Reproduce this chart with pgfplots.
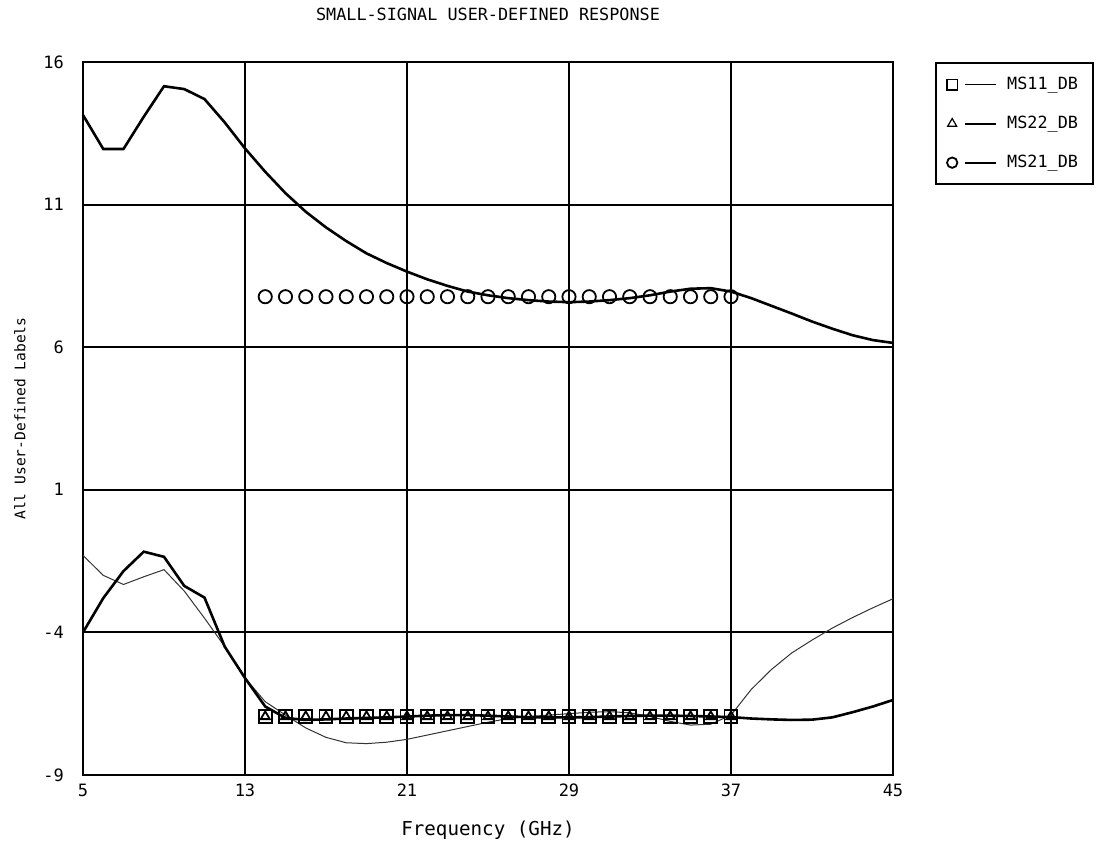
\documentclass[border=0pt]{standalone}
\usepackage{fontspec}
\setmainfont{DejaVu Sans Mono}
\usepackage{pgfplots}
\usepackage{pgfplotstable}
\pgfplotsset{compat=1.18}

% traces, 1 GHz steps
\pgfplotstableread{
x ms11 ms22 ms21
5 -1.30 -4.00 14.14
6 -2.00 -2.80 12.95
7 -2.32 -1.85 12.95
8 -2.05 -1.17 14.08
9 -1.80 -1.35 15.15
10 -2.55 -2.37 15.05
11 -3.50 -2.78 14.70
12 -4.50 -4.50 13.88
13 -5.60 -5.60 12.97
14 -6.43 -6.60 12.15
15 -6.90 -7.00 11.40
16 -7.35 -7.07 10.75
17 -7.68 -7.05 10.20
18 -7.87 -7.02 9.72
19 -7.90 -7.00 9.29
20 -7.85 -6.98 8.95
21 -7.75 -6.95 8.65
22 -7.60 -6.92 8.38
23 -7.45 -6.90 8.15
24 -7.30 -6.90 7.95
25 -7.15 -6.92 7.82
26 -7.02 -6.95 7.72
27 -6.95 -6.97 7.65
28 -6.90 -6.98 7.60
29 -6.85 -6.98 7.58
30 -6.80 -6.97 7.60
31 -6.78 -6.95 7.65
32 -6.82 -6.93 7.72
33 -6.95 -6.92 7.82
34 -7.12 -6.92 7.95
35 -7.25 -6.93 8.05
36 -7.22 -6.95 8.07
37 -6.90 -6.97 7.95
38 -6.00 -7.02 7.72
39 -5.30 -7.05 7.45
40 -4.72 -7.07 7.18
41 -4.27 -7.06 6.90
42 -3.85 -6.98 6.65
43 -3.48 -6.80 6.42
44 -3.14 -6.60 6.25
45 -2.82 -6.37 6.15
}\traces

% marker rows (14..37 GHz)
\pgfplotstableread{
x s t c
14 -6.95 -6.95 7.77
15 -6.95 -6.95 7.77
16 -6.95 -6.95 7.77
17 -6.95 -6.95 7.77
18 -6.95 -6.95 7.77
19 -6.95 -6.95 7.77
20 -6.95 -6.95 7.77
21 -6.95 -6.95 7.77
22 -6.95 -6.95 7.77
23 -6.95 -6.95 7.77
24 -6.95 -6.95 7.77
25 -6.95 -6.95 7.77
26 -6.95 -6.95 7.77
27 -6.95 -6.95 7.77
28 -6.95 -6.95 7.77
29 -6.95 -6.95 7.77
30 -6.95 -6.95 7.77
31 -6.95 -6.95 7.77
32 -6.95 -6.95 7.77
33 -6.95 -6.95 7.77
34 -6.95 -6.95 7.77
35 -6.95 -6.95 7.77
36 -6.95 -6.95 7.77
37 -6.95 -6.95 7.77
}\marks

\begin{document}
\begin{tikzpicture}
\begin{axis}[
  scale only axis, width=405pt, height=356.5pt,
  xmin=5, xmax=45, ymin=-9, ymax=16,
  xtick={5,13,21,29,37,45}, ytick={-9,-4,1,6,11,16},
  grid=major, major grid style={black, line width=1pt},
  axis line style={black, line width=1pt},
  tick style={draw=none},
  /pgf/number format/assume math mode=true,
  ticklabel style={font=\fontsize{8.5}{10}\selectfont},
  yticklabel style={xshift=-6pt},
  xticklabel style={yshift=-1pt},
  title={SMALL-SIGNAL USER-DEFINED RESPONSE},
  title style={at={(axis description cs:0.5,1.05)}, anchor=center, font=\fontsize{8.4}{10}\selectfont},
  xlabel={Frequency (GHz)},
  xlabel style={at={(axis description cs:0.5,-0.077)}, anchor=center, font=\fontsize{9.6}{11}\selectfont},
  ylabel={All User-Defined Labels},
  ylabel style={at={(axis description cs:-0.078,0.5)}, anchor=center, font=\fontsize{7.3}{9}\selectfont},
  legend image code/.code={
    \draw[#1, mark=none] (6.5pt,0pt) -- (22pt,0pt);
    \draw[#1] plot coordinates {(0pt,0pt)};
    \path (25pt,0pt);
  },
  legend cell align=left,
  legend style={at={(axis description cs:1,1)}, anchor=north west, xshift=21pt,
    draw=black, line width=1pt, font=\fontsize{8.4}{10}\selectfont,
    inner xsep=5.5pt, inner ysep=5pt, row sep=7.75pt},
]
\addplot[black!80, line width=0.5pt, forget plot] table[x=x, y=ms11] {\traces};
\addplot[black, line width=1.3pt, forget plot] table[x=x, y=ms22] {\traces};
\addplot[black, line width=1.3pt, forget plot] table[x=x, y=ms21] {\traces};

\addplot[only marks, mark=square, mark size=3.2pt, mark options={line width=0.9pt}, forget plot] table[x=x, y=s] {\marks};
\addplot[only marks, mark=triangle, mark size=2.6pt, mark options={line width=0.9pt}, forget plot] table[x=x, y=t] {\marks};
\addplot[only marks, mark=o, mark size=3.3pt, mark options={line width=0.9pt}, forget plot] table[x=x, y=c] {\marks};

\addlegendimage{black, line width=0.5pt, mark=square, mark size=2.6pt, mark options={line width=0.6pt}}
\addlegendentry{MS11\_DB}
\addlegendimage{black, line width=1pt, mark=triangle, mark size=2.6pt, mark options={line width=0.6pt}}
\addlegendentry{MS22\_DB}
\addlegendimage{black, line width=1pt, mark=o, mark size=2.6pt, mark options={line width=0.9pt}}
\addlegendentry{MS21\_DB}
\end{axis}
\pgfresetboundingbox
\useasboundingbox (-41.5pt,-35.5pt) rectangle (508.5pt,387.5pt);
\end{tikzpicture}
\end{document}
